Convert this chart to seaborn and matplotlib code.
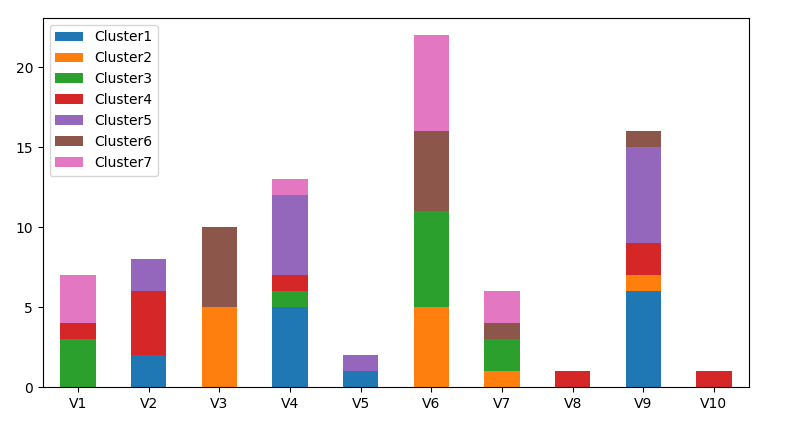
import numpy as np
import pandas as pd
import matplotlib
matplotlib.use("Agg")
import matplotlib.pyplot as plt
import seaborn as sns

categories = ["V1", "V2", "V3", "V4", "V5", "V6", "V7", "V8", "V9", "V10"]
series_names = ["Cluster1", "Cluster2", "Cluster3", "Cluster4", "Cluster5", "Cluster6", "Cluster7"]
cluster1 = [0, 2, 0, 5, 1, 0, 0, 0, 6, 0]
cluster2 = [0, 0, 5, 0, 0, 5, 1, 0, 1, 0]
cluster3 = [3, 0, 0, 1, 0, 6, 2, 0, 0, 0]
cluster4 = [1, 4, 0, 1, 0, 0, 0, 1, 2, 1]
cluster5 = [0, 2, 0, 5, 1, 0, 0, 0, 6, 0]
cluster6 = [0, 0, 5, 0, 0, 5, 1, 0, 1, 0]
cluster7 = [3, 0, 0, 1, 0, 6, 2, 0, 0, 0]
series = [cluster1, cluster2, cluster3, cluster4, cluster5, cluster6, cluster7]

fig, ax = plt.subplots(figsize=(7.92, 4.24), dpi=100)
fig.subplots_adjust(left=0.054, right=0.946, top=0.958, bottom=0.087)
palette = sns.color_palette("tab10")

bottom = np.zeros(len(categories))
for i, (name, vals) in enumerate(zip(series_names, series)):
    df = pd.DataFrame({"var": categories, "val": vals})
    sns.barplot(data=df, x="var", y="val", order=categories, color=palette[i],
                saturation=1, width=0.5, errorbar=None, bottom=bottom,
                label=name, linewidth=0, ax=ax)
    bottom = bottom + np.array(vals)

ax.set_xlim(-0.5, len(categories) - 0.5)
ax.set_ylim(0, bottom.max() * 1.05)
ax.set_xlabel("")
ax.set_ylabel("")
ax.legend(loc="upper left")
fig.savefig("out.png", dpi=100)
